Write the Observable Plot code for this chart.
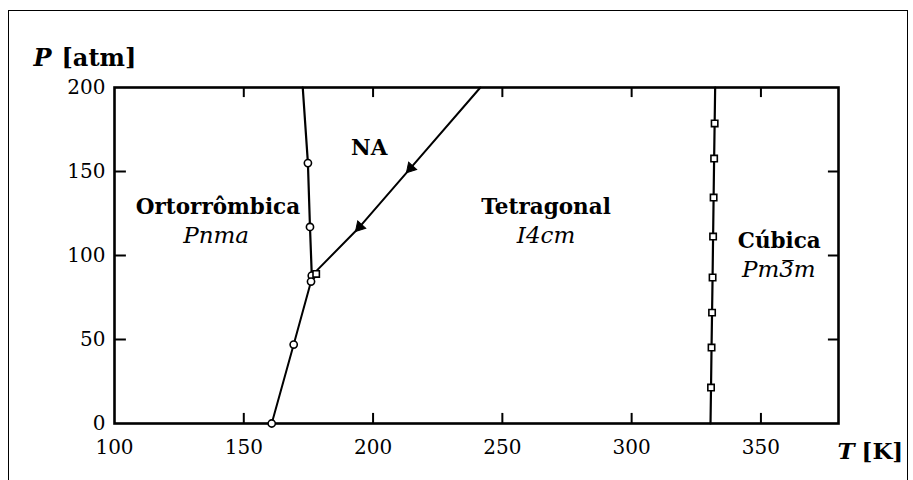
<!DOCTYPE html>
<html>
<head>
<meta charset="utf-8">
<script src="https://cdn.jsdelivr.net/npm/d3@7"></script>
<script src="https://cdn.jsdelivr.net/npm/@observablehq/plot@0.6"></script>
<style>
  body { margin: 0; background: #fff; }
  #fig { position: relative; width: 913px; height: 480px; overflow: hidden; background: #fff; }
  #border { position: absolute; left: 8px; top: 10px; width: 898px; height: 480px;
            border: 1.5px solid #000; border-bottom: none; }
  #fig svg { position: absolute; left: 0; top: 0; }
</style>
</head>
<body>
<div id="fig"><div id="border"></div></div>
<script>
// Phase diagram: pressure P (atm) vs temperature T (K)

// Ortorrômbica / NA boundary
const orthoNA_T = [172.8, 174.8, 175.6, 176.3];
const orthoNA_P = [200, 155, 117, 88];

// NA / Tetragonal boundary
const naTet_T = [176.3, 194.8, 214.5, 241.5];
const naTet_P = [88, 117, 152, 200];

// Ortorrômbica / Tetragonal boundary
const orthoTet_T = [160.8, 169.3, 176.0, 176.3];
const orthoTet_P = [0, 47, 84.5, 88];

// Tetragonal / Cúbica boundary
const cubic_T = [330.5, 330.7, 330.9, 331.1, 331.3, 331.5, 331.7, 331.9, 332.1, 332.3];
const cubic_P = [0, 21.4, 45.2, 66, 86.9, 111.3, 134.5, 157.7, 178.6, 200];

// measured points
const circle_T = [174.8, 175.6, 176.3, 176.0, 169.3, 160.8];
const circle_P = [155, 117, 88, 84.5, 47, 0];
const triangle_T = [194.8, 214.5];
const triangle_P = [117, 152];
const square_T = [178.0, 330.7, 330.9, 331.1, 331.3, 331.5, 331.7, 331.9, 332.1];
const square_P = [89, 21.4, 45.2, 66, 86.9, 111.3, 134.5, 157.7, 178.6];

// phase names and space groups
const phaseNames = ["Ortorrômbica", "NA", "Tetragonal", "Cúbica"];
const phaseName_T = [140, 198.5, 266.9, 357.1];
const phaseName_P = [129, 164.1, 129, 108.7];
const spaceGroups = ["Pnma", "I4cm", "Pm3\u0305m"];
const spaceGroup_T = [139.3, 266.9, 356.9];
const spaceGroup_P = [111.7, 111.7, 91.5];

// axis ticks
const xTickLabels = [100, 150, 200, 250, 300, 350];
const yTickLabels = [0, 50, 100, 150, 200];
const xInnerTicks = [150, 200, 250, 300, 350];
const yInnerTicks = [50, 100, 150];

const pts = (T, P) => T.map((t, i) => ({T: t, P: P[i]}));

const plot = Plot.plot({
  width: 913,
  height: 480,
  marginLeft: 114,
  marginRight: 75,
  marginTop: 87,
  marginBottom: 57,
  x: {domain: [100, 380]},
  y: {domain: [0, 200]},
  style: {fontFamily: "'DejaVu Serif', serif", fontSize: "20px", color: "#000", background: "transparent"},
  marks: [
    Plot.axisX({ticks: xTickLabels, tickSize: 0, tickPadding: 16, label: null, fontSize: 20}),
    Plot.axisY({ticks: yTickLabels, tickSize: 0, tickPadding: 9, label: null, fontSize: 20}),
    // inward ticks on all four sides
    Plot.ruleX(xInnerTicks, {y1: 0, y2: 6, strokeWidth: 2}),
    Plot.ruleX(xInnerTicks, {y1: 194, y2: 200, strokeWidth: 2}),
    Plot.ruleY(yInnerTicks, {x1: 100, x2: 104.6, strokeWidth: 2}),
    Plot.ruleY(yInnerTicks, {x1: 376.1, x2: 380, strokeWidth: 2}),
    // phase boundaries
    Plot.line(pts(orthoNA_T, orthoNA_P), {x: "T", y: "P", strokeWidth: 2.2}),
    Plot.line(pts(naTet_T, naTet_P), {x: "T", y: "P", strokeWidth: 2}),
    Plot.line(pts(orthoTet_T, orthoTet_P), {x: "T", y: "P", strokeWidth: 2}),
    Plot.line(pts(cubic_T, cubic_P), {x: "T", y: "P", strokeWidth: 2.2}),
    Plot.frame({stroke: "#000", strokeWidth: 2.6}),
    // measured points
    Plot.dot(pts(circle_T, circle_P), {x: "T", y: "P", r: 3.6, fill: "#fff", stroke: "#000", strokeWidth: 1.6}),
    Plot.dot(pts(square_T, square_P), {x: "T", y: "P", symbol: "square", r: 3.6, fill: "#fff", stroke: "#000", strokeWidth: 1.6}),
    Plot.dot(pts(triangle_T, triangle_P), {x: "T", y: "P", symbol: "triangle", r: 4, rotate: 222, fill: "#000", stroke: "#000", strokeWidth: 1}),
    // region labels
    Plot.text(phaseNames, {x: (d, i) => phaseName_T[i], y: (d, i) => phaseName_P[i], text: d => d,
      fontSize: 21.5, fontWeight: "bold", fill: "#000"}),
    Plot.text(spaceGroups, {x: (d, i) => spaceGroup_T[i], y: (d, i) => spaceGroup_P[i], text: d => d,
      fontSize: 23, fontStyle: "italic", fill: "#000"}),
    // axis titles
    Plot.text(["P"], {frameAnchor: "top-left", textAnchor: "start", lineAnchor: "middle", dx: -81, dy: -29,
      fontSize: 24, fontWeight: "bold", fontStyle: "italic", fill: "#000"}),
    Plot.text(["[atm]"], {frameAnchor: "top-left", textAnchor: "start", lineAnchor: "middle", dx: -53, dy: -29,
      fontSize: 24, fontWeight: "bold", fill: "#000"}),
    Plot.text(["T"], {frameAnchor: "bottom-right", textAnchor: "start", lineAnchor: "middle", dx: -1, dy: 28,
      fontSize: 23, fontWeight: "bold", fontStyle: "italic", fill: "#000"}),
    Plot.text(["[K]"], {frameAnchor: "bottom-right", textAnchor: "start", lineAnchor: "middle", dx: 23, dy: 28,
      fontSize: 23, fontWeight: "bold", fill: "#000"})
  ]
});

document.getElementById("fig").appendChild(plot);
</script>
</body>
</html>
